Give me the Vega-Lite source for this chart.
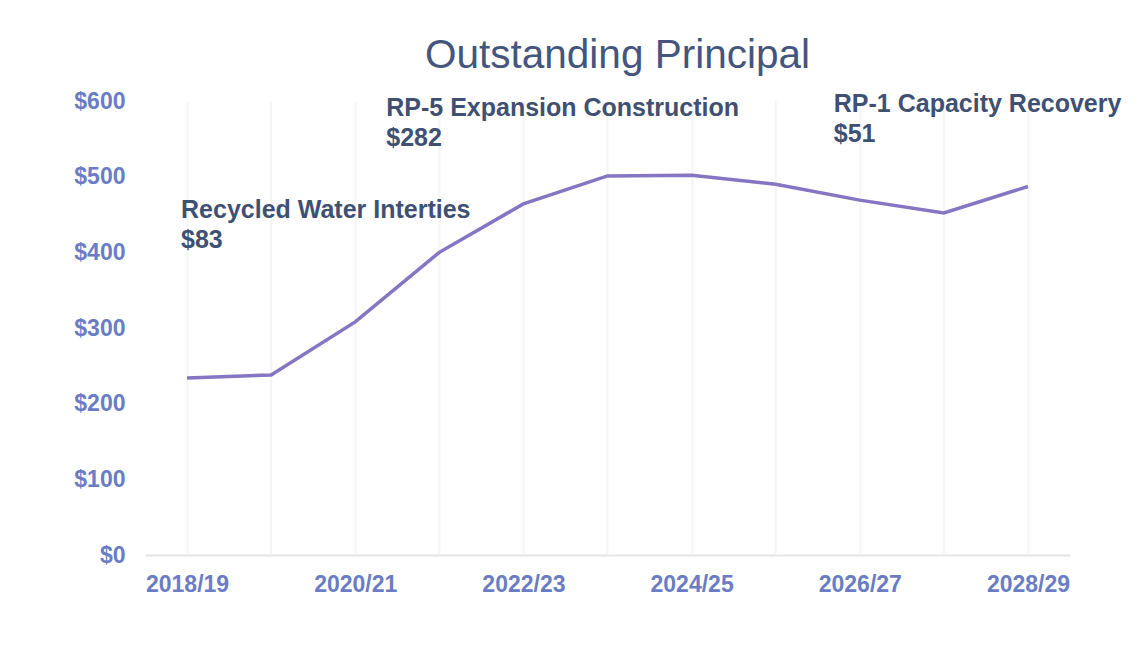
{
  "$schema": "https://vega.github.io/schema/vega-lite/v6.json",
  "width": 925,
  "height": 454,
  "autosize": {"type": "none"},
  "padding": {"left": 145, "top": 101, "right": 71, "bottom": 91},
  "background": "white",
  "title": {
    "text": "Outstanding Principal",
    "font": "Liberation Sans",
    "fontSize": 40.5,
    "fontWeight": "normal",
    "color": "#44557e",
    "anchor": "middle",
    "offset": 14,
    "dx": 10
  },
  "config": {
    "view": {"stroke": null},
    "font": "Liberation Sans"
  },
  "datasets": {
    "principal": [
      {"year": "2018/19", "value": 234},
      {"year": "2019/20", "value": 238},
      {"year": "2020/21", "value": 308},
      {"year": "2021/22", "value": 400},
      {"year": "2022/23", "value": 464},
      {"year": "2023/24", "value": 501},
      {"year": "2024/25", "value": 502},
      {"year": "2025/26", "value": 490},
      {"year": "2026/27", "value": 469},
      {"year": "2027/28", "value": 452},
      {"year": "2028/29", "value": 487}
    ],
    "notes": [
      {"year": "2018/19", "value": 446, "label": "Recycled Water Interties\n$83", "key": "a"},
      {"year": "2020/21", "value": 580, "label": "RP-5 Expansion Construction\n$282", "key": "b"},
      {"year": "2026/27", "value": 585, "label": "RP-1 Capacity Recovery\n$51", "key": "c"}
    ]
  },
  "layer": [
    {
      "data": {"name": "principal"},
      "transform": [{"filter": "datum.year == '2019/20' || datum.year == '2021/22' || datum.year == '2023/24' || datum.year == '2025/26' || datum.year == '2027/28'"}],
      "mark": {"type": "rule", "color": "#f5f5f7", "strokeWidth": 2},
      "encoding": {
        "x": {"field": "year", "type": "ordinal"},
        "y": {"datum": 600},
        "y2": {"datum": 0}
      }
    },
    {
      "data": {"name": "principal"},
      "mark": {"type": "line", "color": "#8575c2", "strokeWidth": 3.5},
      "encoding": {
        "x": {
          "field": "year",
          "type": "ordinal",
          "scale": {"type": "point", "padding": 0.5},
          "axis": {
            "title": null,
            "values": ["2018/19", "2020/21", "2022/23", "2024/25", "2026/27", "2028/29"],
            "labelAngle": 0,
            "labelAlign": "center",
            "labelBaseline": "top",
            "labelFont": "Liberation Sans",
            "labelFontSize": 23,
            "labelFontWeight": "bold",
            "labelColor": "#6a7dc4",
            "labelPadding": 18,
            "ticks": false,
            "domainColor": "#e6e6ea",
            "domainWidth": 2,
            "grid": true,
            "gridColor": "#f5f5f7",
            "gridWidth": 2
          }
        },
        "y": {
          "field": "value",
          "type": "quantitative",
          "scale": {"domain": [0, 600], "nice": false},
          "axis": {
            "title": null,
            "values": [0, 100, 200, 300, 400, 500, 600],
            "format": "$d",
            "labelFont": "Liberation Sans",
            "labelFontSize": 23,
            "labelFontWeight": "bold",
            "labelColor": "#6a7dc4",
            "labelPadding": 20,
            "ticks": false,
            "domain": false,
            "grid": false
          }
        }
      }
    },
    {
      "data": {"name": "notes"},
      "transform": [{"filter": "datum.key == 'a'"}],
      "mark": {"type": "text", "align": "left", "baseline": "alphabetic", "dx": -6, "font": "Liberation Sans", "fontSize": 25, "fontWeight": "bold", "color": "#3f5073", "lineBreak": "\n", "lineHeight": 30},
      "encoding": {
        "x": {"field": "year", "type": "ordinal"},
        "y": {"field": "value", "type": "quantitative"},
        "text": {"field": "label"}
      }
    },
    {
      "data": {"name": "notes"},
      "transform": [{"filter": "datum.key == 'b'"}],
      "mark": {"type": "text", "align": "left", "baseline": "alphabetic", "dx": 31, "font": "Liberation Sans", "fontSize": 25, "fontWeight": "bold", "color": "#3f5073", "lineBreak": "\n", "lineHeight": 30},
      "encoding": {
        "x": {"field": "year", "type": "ordinal"},
        "y": {"field": "value", "type": "quantitative"},
        "text": {"field": "label"}
      }
    },
    {
      "data": {"name": "notes"},
      "transform": [{"filter": "datum.key == 'c'"}],
      "mark": {"type": "text", "align": "left", "baseline": "alphabetic", "dx": -26, "font": "Liberation Sans", "fontSize": 25, "fontWeight": "bold", "color": "#3f5073", "lineBreak": "\n", "lineHeight": 30},
      "encoding": {
        "x": {"field": "year", "type": "ordinal"},
        "y": {"field": "value", "type": "quantitative"},
        "text": {"field": "label"}
      }
    }
  ]
}
